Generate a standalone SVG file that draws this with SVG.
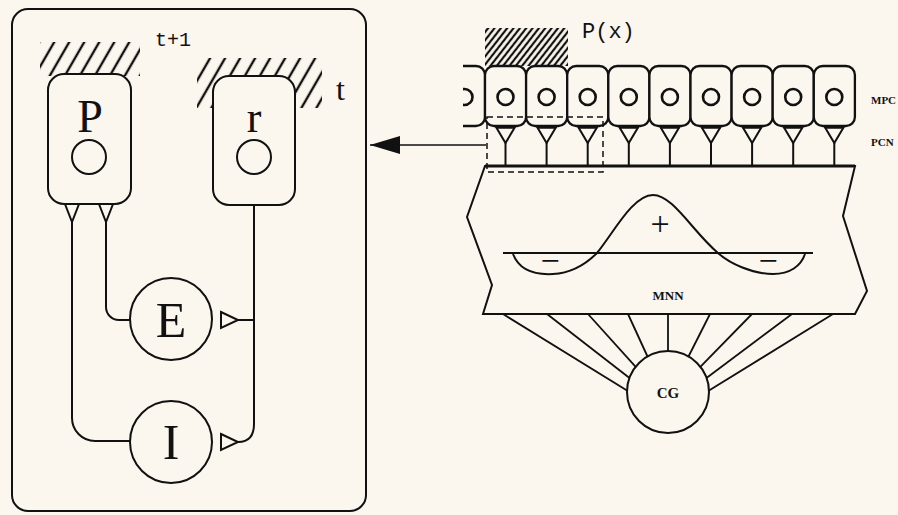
<svg xmlns="http://www.w3.org/2000/svg" width="898" height="515" viewBox="0 0 898 515">
<style>
.s{fill:none;stroke:#111;stroke-width:2}
.f{fill:#fbf6ee;stroke:#111;stroke-width:2}
.cell{fill:#fbf6ee;stroke:#111;stroke-width:2.3}
.nuc{fill:none;stroke:#111;stroke-width:2.6}
.ser{font-family:"Liberation Serif",serif;fill:#111}
.mono{font-family:"Liberation Mono",monospace;fill:#111}
.lab{font-family:"Liberation Serif",serif;font-weight:bold;fill:#111}
</style>
<defs>
<pattern id="hatch" width="13" height="13" patternUnits="userSpaceOnUse" patternTransform="rotate(30)">
<line x1="3" y1="0" x2="3" y2="13" stroke="#111" stroke-width="2.4"/>
</pattern>
<pattern id="hatch2" width="5" height="5" patternUnits="userSpaceOnUse" patternTransform="rotate(38)">
<line x1="2" y1="0" x2="2" y2="5" stroke="#111" stroke-width="2.2"/>
</pattern>
<marker id="ah" markerUnits="userSpaceOnUse" markerWidth="30" markerHeight="18" refX="30" refY="9" orient="auto">
<path d="M0,0 L30,9 L0,18 z" fill="#111"/>
</marker>
<clipPath id="pc"><rect x="463" y="50" width="30" height="90"/></clipPath>
</defs>
<rect x="0" y="0" width="898" height="515" fill="#fbf6ee"/>

<g id="frame">
<rect x="12" y="9" width="354" height="502" rx="16" class="s"/>
</g>

<g id="node-P">
<rect x="40" y="42" width="100" height="34" fill="url(#hatch)"/>
<rect x="48" y="74" width="83" height="130" rx="16" class="f"/>
<text x="90" y="132" class="ser" font-size="46" text-anchor="middle">P</text>
<circle cx="89" cy="157" r="17" class="s"/>
<text x="155" y="46" class="mono" font-size="20">t+1</text>
</g>

<g id="node-r">
<rect x="197" y="58" width="125" height="50" fill="url(#hatch)"/>
<rect x="213" y="76" width="82" height="129" rx="16" class="f"/>
<text x="254" y="132" class="ser" font-size="44" text-anchor="middle">r</text>
<circle cx="254" cy="157" r="17" class="s"/>
<text x="336" y="100" class="ser" font-size="32">t</text>
</g>

<g id="node-E">
<circle cx="171" cy="319" r="41" class="s"/>
<text x="171" y="337" class="ser" font-size="50" text-anchor="middle">E</text>
</g>

<g id="node-I">
<circle cx="171" cy="442" r="41" class="s"/>
<text x="171" y="459" class="ser" font-size="50" text-anchor="middle">I</text>
</g>

<g id="connectors">
<path d="M72 222 V418 A23 23 0 0 0 95 441 H130" class="s"/>
<path d="M106 222 V307 A13 13 0 0 0 119 320 H130" class="s"/>
<path d="M254 205 V424 Q254 442 238 442" class="s"/>
<path d="M254 320 H238" class="s"/>
<polygon points="65,204 79,204 72,222" class="f"/>
<polygon points="99,204 113,204 106,222" class="f"/>
<polygon points="221,312 238,320 221,328" class="f"/>
<polygon points="221,434 238,442 221,450" class="f"/>
<line x1="486" y1="145" x2="370" y2="145" stroke="#111" stroke-width="1.6" marker-end="url(#ah)"/>
</g>

<g id="node-MPC">
<rect x="485" y="28" width="83" height="38" fill="url(#hatch2)"/>
<text x="582" y="38" class="mono" font-size="22">P(x)</text>
<g clip-path="url(#pc)">
<rect x="443.9" y="66" width="41.1" height="60" rx="9" class="cell"/>
<circle cx="464.5" cy="97" r="8" class="nuc"/>
</g>
<rect x="485" y="66" width="41.1" height="60" rx="9" class="cell"/>
<rect x="526.1" y="66" width="41.1" height="60" rx="9" class="cell"/>
<rect x="567.2" y="66" width="41.1" height="60" rx="9" class="cell"/>
<rect x="608.3" y="66" width="41.1" height="60" rx="9" class="cell"/>
<rect x="649.4" y="66" width="41.1" height="60" rx="9" class="cell"/>
<rect x="690.5" y="66" width="41.1" height="60" rx="9" class="cell"/>
<rect x="731.6" y="66" width="41.1" height="60" rx="9" class="cell"/>
<rect x="772.7" y="66" width="41.1" height="60" rx="9" class="cell"/>
<rect x="813.8" y="66" width="41.1" height="60" rx="9" class="cell"/>
<circle cx="505.5" cy="97" r="8" class="nuc"/>
<circle cx="546.6" cy="97" r="8" class="nuc"/>
<circle cx="587.7" cy="97" r="8" class="nuc"/>
<circle cx="628.8" cy="97" r="8" class="nuc"/>
<circle cx="669.9" cy="97" r="8" class="nuc"/>
<circle cx="711" cy="97" r="8" class="nuc"/>
<circle cx="752.1" cy="97" r="8" class="nuc"/>
<circle cx="793.2" cy="97" r="8" class="nuc"/>
<circle cx="834.3" cy="97" r="8" class="nuc"/>
<text x="871" y="104" class="lab" font-size="11">MPC</text>
</g>

<g id="node-PCN">
<g fill="#fbf6ee" stroke="#111" stroke-width="2">
<polygon points="496,127 515,127 505.5,143"/>
<polygon points="537.1,127 556.1,127 546.6,143"/>
<polygon points="578.2,127 597.2,127 587.7,143"/>
<polygon points="619.3,127 638.3,127 628.8,143"/>
<polygon points="660.4,127 679.4,127 669.9,143"/>
<polygon points="701.5,127 720.5,127 711,143"/>
<polygon points="742.6,127 761.6,127 752.1,143"/>
<polygon points="783.7,127 802.7,127 793.2,143"/>
<polygon points="824.8,127 843.8,127 834.3,143"/>
</g>
<g stroke="#111" stroke-width="3.5">
<line x1="496" y1="127" x2="515" y2="127"/>
<line x1="537.1" y1="127" x2="556.1" y2="127"/>
<line x1="578.2" y1="127" x2="597.2" y2="127"/>
<line x1="619.3" y1="127" x2="638.3" y2="127"/>
<line x1="660.4" y1="127" x2="679.4" y2="127"/>
<line x1="701.5" y1="127" x2="720.5" y2="127"/>
<line x1="742.6" y1="127" x2="761.6" y2="127"/>
<line x1="783.7" y1="127" x2="802.7" y2="127"/>
<line x1="824.8" y1="127" x2="843.8" y2="127"/>
</g>
<g stroke="#111" stroke-width="2">
<line x1="505.5" y1="143" x2="505.5" y2="166"/>
<line x1="546.6" y1="143" x2="546.6" y2="166"/>
<line x1="587.7" y1="143" x2="587.7" y2="166"/>
<line x1="628.8" y1="143" x2="628.8" y2="166"/>
<line x1="669.9" y1="143" x2="669.9" y2="166"/>
<line x1="711" y1="143" x2="711" y2="166"/>
<line x1="752.1" y1="143" x2="752.1" y2="166"/>
<line x1="793.2" y1="143" x2="793.2" y2="166"/>
<line x1="834.3" y1="143" x2="834.3" y2="166"/>
</g>
<text x="871" y="146" class="lab" font-size="11">PCN</text>
</g>

<g id="node-MNN">
<polygon points="485,166 855,166 843,216 867,291 855,314 483,314 492,285 467,217" class="f" stroke-width="2.2"/>
<line x1="485" y1="166" x2="855" y2="166" stroke="#111" stroke-width="2.8"/>
<line x1="503" y1="253" x2="813" y2="253" stroke="#111" stroke-width="2"/>
<path d="M513 254 C519 270 535 275 553 274 C574 273 588 262 597 253 C614 232 633 195 653 195 C673 195 693 232 718 253 C729 263 752 274 773 274 C790 274 801 266 805 254" class="s"/>
<text x="660" y="235" class="ser" font-size="34" text-anchor="middle">+</text>
<text x="550" y="272" class="ser" font-size="34" text-anchor="middle">−</text>
<text x="768" y="272" class="ser" font-size="34" text-anchor="middle">−</text>
<text x="668" y="300" class="lab" font-size="13" text-anchor="middle">MNN</text>
</g>

<g id="fan" stroke="#111" stroke-width="1.8">
<line x1="503" y1="314" x2="627" y2="390.6"/>
<line x1="547" y1="314" x2="629.5" y2="378"/>
<line x1="588" y1="314" x2="635.7" y2="366.8"/>
<line x1="628" y1="314" x2="647.5" y2="356.5"/>
<line x1="668" y1="314" x2="668" y2="351"/>
<line x1="710" y1="314" x2="688.5" y2="356.5"/>
<line x1="752" y1="314" x2="700.3" y2="366.8"/>
<line x1="792" y1="314" x2="706.5" y2="378"/>
<line x1="833" y1="314" x2="709" y2="390.6"/>
</g>

<g id="node-CG">
<circle cx="668" cy="392" r="41" class="f"/>
<text x="668" y="398" class="lab" font-size="15" text-anchor="middle">CG</text>
</g>

<g id="dashed-window">
<rect x="487" y="117" width="116" height="55" fill="none" stroke="#111" stroke-width="1.5" stroke-dasharray="6 4"/>
</g>
</svg>
